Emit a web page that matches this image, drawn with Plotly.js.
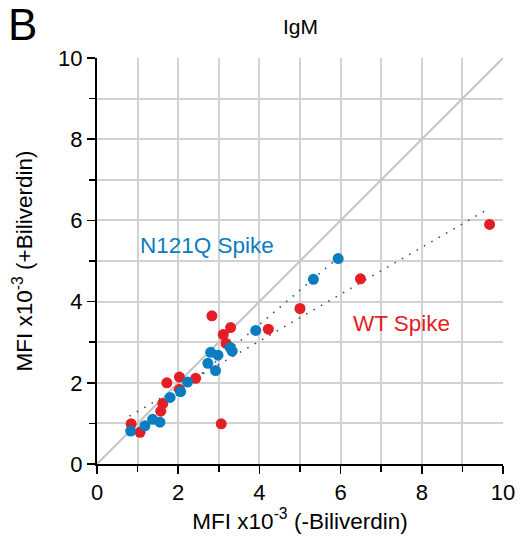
<!DOCTYPE html>
<html><head><meta charset="utf-8">
<script src="https://cdn.plot.ly/plotly-3.0.1.min.js"></script>
<style>body{margin:0;background:#fff}#c{width:521px;height:545px}</style>
</head><body><div id="c"></div>
<script>
// N121Q Spike (blue)
const n121qX = [5.94,5.33,3.91,3.28,3.33,2.80,2.98,2.73,2.92,2.23,2.06,1.80,1.37,1.55,1.18,0.83];
const n121qY = [5.06,4.55,3.29,2.87,2.78,2.75,2.68,2.48,2.30,2.02,1.78,1.64,1.10,1.03,0.94,0.81];
// WT Spike (red)
const wtX = [9.67,6.49,5.00,4.22,2.83,3.29,3.11,3.18,1.72,2.03,2.43,2.03,1.62,1.57,0.84,1.06,3.06];
const wtY = [5.90,4.56,3.83,3.32,3.65,3.36,3.19,2.97,2.00,2.14,2.11,1.84,1.49,1.30,0.99,0.78,0.99];
// trend lines (endpoints)
const n121qTrendX = [0.83,5.94];
const n121qTrendY = [0.74,5.08];
const wtTrendX = [0.8,9.6];
const wtTrendY = [1.18,6.26];
const identityX = [0,10];
const identityY = [0,10];

const blue = '#0a7dc2', red = '#e31e24';
const font = 'Liberation Sans, Arial, sans-serif';

const traces = [
  {x: identityX, y: identityY, mode:'lines', line:{color:'#c4c4c4', width:2}, hoverinfo:'skip'},
  {x: wtTrendX, y: wtTrendY, mode:'lines', line:{color:'#6a3030', width:1.6, dash:'1.5px,7px'}, hoverinfo:'skip'},
  {x: n121qTrendX, y: n121qTrendY, mode:'lines', line:{color:'#30506a', width:1.6, dash:'1.5px,7px'}, hoverinfo:'skip'},
  {x: wtX, y: wtY, mode:'markers', marker:{color:red, size:11}},
  {x: n121qX, y: n121qY, mode:'markers', marker:{color:blue, size:11}}
];

const axisCommon = {
  range:[0,10], dtick:2, tick0:0, ticks:'outside', ticklen:8, tickwidth:1.5, tickcolor:'#000',
  showline:true, linecolor:'#000', linewidth:2, zeroline:false,
  showgrid:true, gridcolor:'#d2d2d2', gridwidth:2,
  minor:{dtick:1, ticks:'outside', ticklen:6, tickwidth:1.5, tickcolor:'#000', showgrid:true, gridcolor:'#d2d2d2', gridwidth:2},
  tickfont:{family:font, size:22, color:'#000'}, fixedrange:true
};

const layout = {
  width:521, height:545, showlegend:false,
  margin:{l:97, r:18, t:58, b:81},
  paper_bgcolor:'#fff', plot_bgcolor:'#fff',
  font:{family:font, color:'#000'},
  xaxis: Object.assign({}, axisCommon, {
    title:{text:'MFI x10<sup>-3</sup> (-Biliverdin)', font:{family:font, size:22.5, color:'#000'}, standoff:6}
  }),
  yaxis: Object.assign({}, axisCommon, {
    title:{text:'MFI x10<sup>-3</sup> (+Biliverdin)', font:{family:font, size:22.5, color:'#000'}, standoff:19}
  }),
  annotations:[
    {text:'IgM', x:(300-97)/406, y:(464-27)/406, xref:'paper', yref:'paper', xanchor:'center', yanchor:'middle', showarrow:false, font:{family:font, size:21, color:'#000'}},
    {text:'B', x:(22-97)/406, y:(464-24)/406, xref:'paper', yref:'paper', xanchor:'center', yanchor:'middle', showarrow:false, font:{family:font, size:44, color:'#000'}},
    {text:'N121Q Spike', x:2.71, y:5.37, xref:'x', yref:'y', showarrow:false, font:{family:font, size:22.5, color:blue}},
    {text:'WT Spike', x:7.51, y:3.47, xref:'x', yref:'y', showarrow:false, font:{family:font, size:22.5, color:red}}
  ]
};

Plotly.newPlot('c', traces, layout, {displayModeBar:false, staticPlot:true});
</script></body></html>
